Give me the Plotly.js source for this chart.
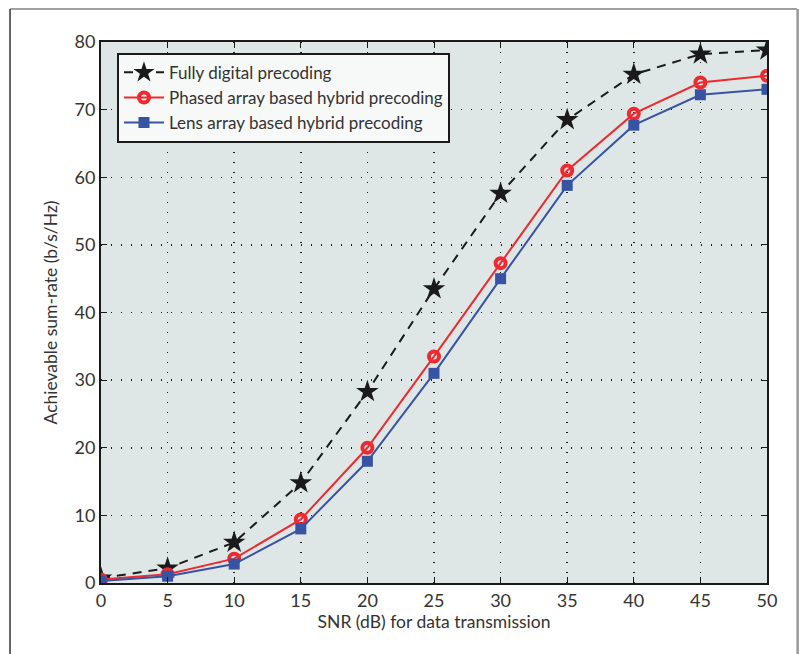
<!DOCTYPE html>
<html>
<head>
<meta charset="utf-8">
<script src="https://cdn.plot.ly/plotly-3.0.1.min.js"></script>
<style>html,body{margin:0;padding:0;background:#fff;}#chart{width:801px;height:654px;}</style>
</head>
<body>
<div id="chart"></div>
<script>
const snr = [0, 5, 10, 15, 20, 25, 30, 35, 40, 45, 50];
const fullyDigital = [0.7, 2.2, 6.0, 14.8, 28.3, 43.5, 57.6, 68.5, 75.2, 78.2, 78.8];
const phasedArray = [0.5, 1.3, 3.6, 9.4, 20.0, 33.5, 47.3, 61.0, 69.4, 74.0, 75.0];
const lensArray = [0.3, 1.0, 2.8, 8.0, 18.0, 31.0, 45.0, 58.8, 67.7, 72.2, 73.0];
const seriesNames = ["Fully digital precoding", "Phased array based hybrid precoding", "Lens array based hybrid precoding"];
const xTicks = [0, 5, 10, 15, 20, 25, 30, 35, 40, 45, 50];
const yTicks = [0, 10, 20, 30, 40, 50, 60, 70, 80];

const FONT = "Lato, 'Open Sans', sans-serif";

const traces = [
  {x: snr, y: fullyDigital, name: seriesNames[0], mode: "lines+markers",
   line: {color: "#1a1a1a", width: 2, dash: "9px,7px"},
   marker: {symbol: "star", size: 17, color: "#1a1a1a", line: {width: 0}}},
  {x: snr, y: phasedArray, name: seriesNames[1], mode: "lines+markers",
   line: {color: "#ee2a30", width: 2},
   marker: {symbol: "circle-open", size: 10, color: "#ee2a30", line: {width: 4, color: "#ee2a30"}}},
  {x: snr, y: lensArray, name: seriesNames[2], mode: "lines+markers",
   line: {color: "#3853a4", width: 2},
   marker: {symbol: "square", size: 11, color: "#3853a4", line: {width: 0}}}
];

const layout = {
  width: 801, height: 654,
  margin: {l: 101, r: 34, t: 42, b: 71},
  paper_bgcolor: "#ffffff",
  plot_bgcolor: "#dee7e5",
  font: {family: FONT, size: 17, color: "#333"},
  showlegend: true,
  legend: {
    x: 0.024, y: 0.98, xanchor: "left", yanchor: "top",
    bgcolor: "#f7f9f8", bordercolor: "#1a1a1a", borderwidth: 2,
    font: {family: FONT, size: 17, color: "#333"},
    tracegroupgap: 0, itemwidth: 40
  },
  xaxis: {
    range: [0, 50], tickvals: xTicks, ticktext: xTicks.map(String),
    showline: true, linecolor: "#1a1a1a", linewidth: 2, mirror: "ticks",
    ticks: "inside", ticklen: 6, tickcolor: "#1a1a1a", tickwidth: 1,
    showgrid: true, gridcolor: "#1a1a1a", griddash: "1px,9px", gridwidth: 1.5,
    zeroline: false,
    tickfont: {family: FONT, size: 18, color: "#333"},
    title: {text: "SNR (dB) for data transmission", font: {family: FONT, size: 17.5, color: "#333"}, standoff: 6}
  },
  yaxis: {
    range: [0, 80], tickvals: yTicks, ticktext: yTicks.map(String),
    showline: true, linecolor: "#1a1a1a", linewidth: 2, mirror: "ticks",
    ticks: "inside", ticklen: 6, tickcolor: "#1a1a1a", tickwidth: 1,
    showgrid: true, gridcolor: "#1a1a1a", griddash: "1px,9px", gridwidth: 1.5,
    zeroline: false,
    tickfont: {family: FONT, size: 18, color: "#333"},
    title: {text: "Achievable sum-rate (b/s/Hz)", font: {family: FONT, size: 17.5, color: "#333"}, standoff: 12}
  },
  shapes: [
    {type: "line", xref: "paper", yref: "paper", x0: -0.1366, x1: 1.045, y0: 1.061, y1: 1.061, line: {color: "#444", width: 1}},
    {type: "line", xref: "paper", yref: "paper", x0: -0.1366, x1: -0.1366, y0: 1.061, y1: -0.2, line: {color: "#333", width: 1.5}},
    {type: "line", xref: "paper", yref: "paper", x0: 1.046, x1: 1.046, y0: 1.061, y1: -0.2, line: {color: "#999", width: 2.5}}
  ]
};

Plotly.newPlot("chart", traces, layout, {displayModeBar: false, staticPlot: true});
</script>
</body>
</html>
